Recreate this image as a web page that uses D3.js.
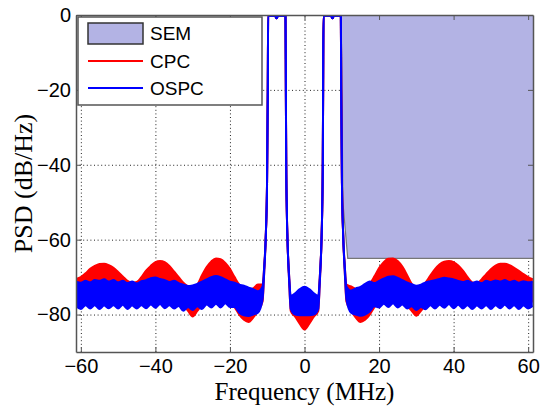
<!DOCTYPE html>
<html>
<head>
<meta charset="utf-8">
<script src="https://cdn.jsdelivr.net/npm/d3@7"></script>
<style>
  body { margin: 0; background: #fff; }
  svg { display: block; }
</style>
</head>
<body>
<div id="chart"></div>
<script>
// frequency axis of the PSD traces (MHz)
var freq = [
  -61.25, -60, -58.75, -57.5, -56.25, -55, -53.75, -52.5, -51.25, -50,
  -48.75, -47.5, -46.25, -45, -43.75, -42.5, -41.25, -40, -38.75, -37.5,
  -36.25, -35, -33.75, -32.5, -31.25, -30, -28.75, -27.5, -26.25, -25,
  -23.75, -22.5, -21.25, -20, -18.75, -17.5, -16.25, -15, -13.75, -12.5,
  -11.25, -10.8, -10.35, -10.05, -9.85, -9.75, -9.3, -7.9, -7.5, -7.1,
  -5.6, -5.1, -5.0, -4.9, -4.75, -4.5, -4.1, -3.7, -2.5, -1.25,
  0, 1.25, 2.5, 3.7, 4.1, 4.5, 4.75, 4.9, 5.0, 5.1,
  5.6, 7.1, 7.5, 7.9, 9.3, 9.75, 9.85, 10.05, 10.35, 10.8, 11.25,
  12.5, 13.75, 15, 16.25, 17.5, 18.75, 20, 21.25, 22.5, 23.75,
  25, 26.25, 27.5, 28.75, 30, 31.25, 32.5, 33.75, 35, 36.25,
  37.5, 38.75, 40, 41.25, 42.5, 43.75, 45, 46.25, 47.5, 48.75,
  50, 51.25, 52.5, 53.75, 55, 56.25, 57.5, 58.75, 60, 61.25
];

// CPC: upper / lower edge of the noisy trace (dB/Hz)
var cpcHi = [
  -70.5, -70, -69, -67.8, -67, -66.5, -66.4, -66.8, -67.5, -68.6,
  -69.8, -71, -71.5, -71.3, -70, -68.3, -67, -66, -65.7, -66,
  -67, -68.5, -70, -71.5, -72.5, -73, -72, -69.5, -67.3, -65.8,
  -65, -65.2, -66.2, -67.8, -70, -72, -73, -73.5, -73, -72,
  -72, -67, -58, -45, -20, 0, -0.2, -0.2, -0.9, -0.2,
  -0.2, 0, -20, -40, -52, -62, -70, -75.5, -76, -75,
  -74.5, -75, -76, -75.5, -70, -62, -52, -40, -20, 0,
  -0.2, -0.2, -0.9, -0.2, -0.2, 0, -20, -45, -58, -67, -72,
  -72.5, -73.2, -73.5, -73, -71.8, -69.8, -67.6, -66, -65.1, -65,
  -65.7, -67.2, -69.4, -71.8, -73, -72.6, -71.4, -69.6, -67.9, -66.6,
  -65.9, -65.7, -66, -66.9, -68.3, -70, -71.4, -71.6, -70.6, -69.2,
  -67.9, -66.9, -66.4, -66.4, -66.8, -67.5, -68.3, -69.2, -70, -70.6
];
var cpcLo = [
  -76.5, -76.5, -76.5, -76.5, -76.5, -76.5, -76.5, -76.5, -76.5, -76.5,
  -76.5, -76.5, -76.5, -76.5, -76.5, -76.5, -76.5, -76.5, -76.5, -76.5,
  -76.5, -76.5, -76.5, -77.6, -79, -80.5, -79, -77.5, -76.5, -76.5,
  -76.5, -76.5, -76.5, -76.5, -78, -80, -81.4, -82, -80.8, -79,
  -76.5, -68.5, -58, -45, -20, 0, -0.2, -0.2, -0.9, -0.2,
  -0.2, 0, -20, -40, -52, -62, -71.5, -79, -80.6, -82.5,
  -84, -82.5, -80.6, -79, -71.5, -62, -52, -40, -20, 0,
  -0.2, -0.2, -0.9, -0.2, -0.2, 0, -20, -45, -58, -68.5, -76.5,
  -79, -80.8, -82, -81.4, -80, -78, -76.5, -76.5, -76.5, -76.5,
  -76.5, -76.5, -77.6, -79, -80.3, -79, -77.6, -76.5, -76.5, -76.5,
  -76.5, -76.5, -76.5, -76.5, -76.5, -76.5, -76.5, -76.5, -76.5, -76.5,
  -76.5, -76.5, -76.5, -76.5, -76.5, -76.5, -76.5, -76.5, -76.5, -76.5
];

// OSPC: upper / lower edge of the noisy trace (dB/Hz)
var ospcHi = [
  -71.2, -71.5, -71, -71.4, -70.8, -71, -70.6, -71.2, -70.8, -71.4,
  -71, -71.6, -71.2, -71.7, -71.1, -70.8, -70.3, -70.1, -70.5, -70.8,
  -71.3, -71, -71.6, -72, -72.4, -72.2, -71.8, -71.2, -70.6, -70,
  -69.7, -70, -70.6, -71.2, -71.5, -72, -72.3, -72.8, -73.2, -73.8,
  -72.5, -67, -58, -45, -20, 0, -0.2, -0.2, -0.9, -0.2,
  -0.2, 0, -20, -40, -52, -62, -70, -75, -74.3, -73.2,
  -72.6, -73.2, -74.3, -75, -70, -62, -52, -40, -20, 0,
  -0.2, -0.2, -0.9, -0.2, -0.2, 0, -20, -45, -58, -67, -72.5,
  -73.6, -73, -72.6, -71.8, -71.2, -71.6, -71, -70.4, -69.9, -69.8,
  -70.2, -70.8, -71.4, -71.9, -72.3, -72, -71.4, -71.1, -70.8, -70.5,
  -70.2, -70.4, -70.6, -71, -71.3, -71, -71.5, -71.2, -71.6, -71,
  -71.3, -70.9, -71.2, -70.8, -71.3, -71, -71.5, -71.1, -71.4, -71.2
];
var ospcLo = [
  -77.8, -78.5, -77.5, -78.4, -77.5, -78.5, -77.6, -78.3, -77.5, -78.4,
  -77.4, -78.5, -77.6, -78.4, -77.5, -78.3, -77.3, -78.2, -77.2, -78.3,
  -77.5, -78.4, -77.7, -79, -78, -78.8, -77.8, -78.5, -77.3, -78.1,
  -77.1, -78.1, -77, -78, -78, -79.5, -80.2, -80.4, -80, -79.5,
  -76, -68.5, -58, -45, -20, 0, -0.2, -0.2, -0.9, -0.2,
  -0.2, 0, -20, -40, -52, -62, -71.5, -78.5, -80, -80.2,
  -80.2, -80.2, -80, -78.5, -71.5, -62, -52, -40, -20, 0,
  -0.2, -0.2, -0.9, -0.2, -0.2, 0, -20, -45, -58, -68.5, -76,
  -79.5, -80, -80.3, -80, -79.2, -77.8, -78.1, -77.1, -78, -77,
  -78.1, -77.3, -78.4, -77.8, -78.8, -78, -78.6, -77.5, -78.4, -77.4,
  -78.2, -77.2, -78.3, -77.4, -78.4, -77.5, -78.5, -77.6, -78.4, -77.5,
  -78.5, -77.5, -78.3, -77.4, -78.4, -77.5, -78.5, -77.6, -78.4, -77.7
];

// spectral emission mask
var semFreq = [9.85, 10.3, 11.6, 61.3];
var semLevel = [0, -50, -65, -65];

var xTicks = [-60, -40, -20, 0, 20, 40, 60];
var yTicks = [-80, -60, -40, -20, 0];
var legendLabels = ["SEM", "CPC", "OSPC"];

var width = 543,
    height = 406,
    margin = {top: 15, right: 10, bottom: 54, left: 76},
    red = "#ff0000",
    blue = "#0000ff",
    semFill = "#b3b3e4";

var svg = d3.select("#chart")
  .append("svg")
  .attr("width", width)
  .attr("height", height)
  .style("background", "#fff");

var x = d3.scaleLinear().domain([-61.3, 61.3]).range([margin.left, width - margin.right]);
var y = d3.scaleLinear().domain([-90, 0]).range([height - margin.bottom, margin.top]);

var plotW = width - margin.left - margin.right,
    plotH = height - margin.top - margin.bottom;

svg.append("clipPath").attr("id", "plot-clip")
  .append("rect")
  .attr("x", margin.left).attr("y", margin.top)
  .attr("width", plotW).attr("height", plotH);

// dotted grid
svg.append("g")
  .attr("class", "grid")
  .attr("transform", `translate(0,${height - margin.bottom})`)
  .call(d3.axisBottom(x).tickValues(xTicks).tickSize(-plotH).tickFormat(""))
  .call(g => g.select(".domain").remove());
svg.append("g")
  .attr("class", "grid")
  .attr("transform", `translate(${margin.left},0)`)
  .call(d3.axisLeft(y).tickValues(yTicks).tickSize(-plotW).tickFormat(""))
  .call(g => g.select(".domain").remove());
svg.selectAll(".grid line")
  .attr("stroke", "#222")
  .attr("stroke-width", 1)
  .attr("stroke-dasharray", "1,2.6");

var plot = svg.append("g").attr("clip-path", "url(#plot-clip)");

// SEM shaded region (from mask level up to 0 dB)
var sem = semFreq.map((f, i) => ({f: f, v: semLevel[i]}));
plot.append("path")
  .datum(sem)
  .attr("fill", semFill)
  .attr("d", d3.area().x(d => x(d.f)).y0(y(0)).y1(d => y(d.v)));
plot.append("path")
  .datum(sem)
  .attr("fill", "none")
  .attr("stroke", "#777")
  .attr("stroke-width", 1.2)
  .attr("d", d3.line().x(d => x(d.f)).y(d => y(d.v)));

function drawTrace(hi, lo, color) {
  var pts = freq.map((f, i) => ({f: f, hi: hi[i], lo: lo[i]}));
  plot.append("path")
    .datum(pts)
    .attr("fill", color)
    .attr("d", d3.area().curve(d3.curveMonotoneX)
      .x(d => x(d.f)).y0(d => y(d.lo)).y1(d => y(d.hi)));
  ["hi", "lo"].forEach(k => {
    plot.append("path")
      .datum(pts)
      .attr("fill", "none")
      .attr("stroke", color)
      .attr("stroke-width", 2)
      .attr("stroke-linejoin", "round")
      .attr("d", d3.line().curve(d3.curveMonotoneX).x(d => x(d.f)).y(d => y(d[k])));
  });
}
drawTrace(cpcHi, cpcLo, red);
drawTrace(ospcHi, ospcLo, blue);

// axes (inward ticks, MATLAB style)
var tickLen = 5;
var xAxis = svg.append("g")
  .attr("transform", `translate(0,${height - margin.bottom})`)
  .call(d3.axisBottom(x).tickValues(xTicks).tickSizeInner(-tickLen).tickSizeOuter(0).tickPadding(7));
var xTop = svg.append("g")
  .attr("transform", `translate(0,${margin.top})`)
  .call(d3.axisTop(x).tickValues(xTicks).tickSizeInner(-tickLen).tickSizeOuter(0).tickFormat(""));
var yAxis = svg.append("g")
  .attr("transform", `translate(${margin.left},0)`)
  .call(d3.axisLeft(y).tickValues(yTicks).tickSizeInner(-tickLen).tickSizeOuter(0).tickPadding(5));
var yRight = svg.append("g")
  .attr("transform", `translate(${width - margin.right},0)`)
  .call(d3.axisRight(y).tickValues(yTicks).tickSizeInner(-tickLen).tickSizeOuter(0).tickFormat(""));

[xAxis, xTop, yAxis, yRight].forEach(g => {
  g.select(".domain").attr("stroke", "#555").attr("stroke-width", 1.5);
  g.selectAll(".tick line").attr("stroke", "#555");
  g.selectAll("text")
    .attr("fill", "#000")
    .style("font-family", "Liberation Sans, Arial, sans-serif")
    .style("font-size", "20px");
});

// axis titles
svg.append("text")
  .attr("x", x(0))
  .attr("y", 400)
  .attr("text-anchor", "middle")
  .style("font-family", "Liberation Serif, Times New Roman, serif")
  .style("font-size", "25px")
  .text("Frequency (MHz)");
svg.append("text")
  .attr("transform", `translate(32,${(margin.top + height - margin.bottom) / 2}) rotate(-90)`)
  .attr("text-anchor", "middle")
  .style("font-family", "Liberation Serif, Times New Roman, serif")
  .style("font-size", "26px")
  .text("PSD (dB/Hz)");

// legend
var legend = svg.append("g").attr("transform", "translate(78,17)");
legend.append("rect")
  .attr("width", 184).attr("height", 88)
  .attr("fill", "#fff").attr("stroke", "#555").attr("stroke-width", 1.5);
var rowY = [16, 44, 71];
legend.append("rect")
  .attr("x", 10).attr("y", rowY[0] - 10)
  .attr("width", 55).attr("height", 21)
  .attr("fill", semFill).attr("stroke", "#333").attr("stroke-width", 1.5);
[red, blue].forEach((c, i) => {
  legend.append("line")
    .attr("x1", 10).attr("x2", 65)
    .attr("y1", rowY[i + 1]).attr("y2", rowY[i + 1])
    .attr("stroke", c).attr("stroke-width", 2);
});
legend.selectAll(".lab")
  .data(legendLabels)
  .enter().append("text")
  .attr("class", "lab")
  .attr("x", 72)
  .attr("y", (d, i) => rowY[i])
  .attr("dy", "0.36em")
  .style("font-family", "Liberation Sans, Arial, sans-serif")
  .style("font-size", "19px")
  .text(d => d);
</script>
</body>
</html>
